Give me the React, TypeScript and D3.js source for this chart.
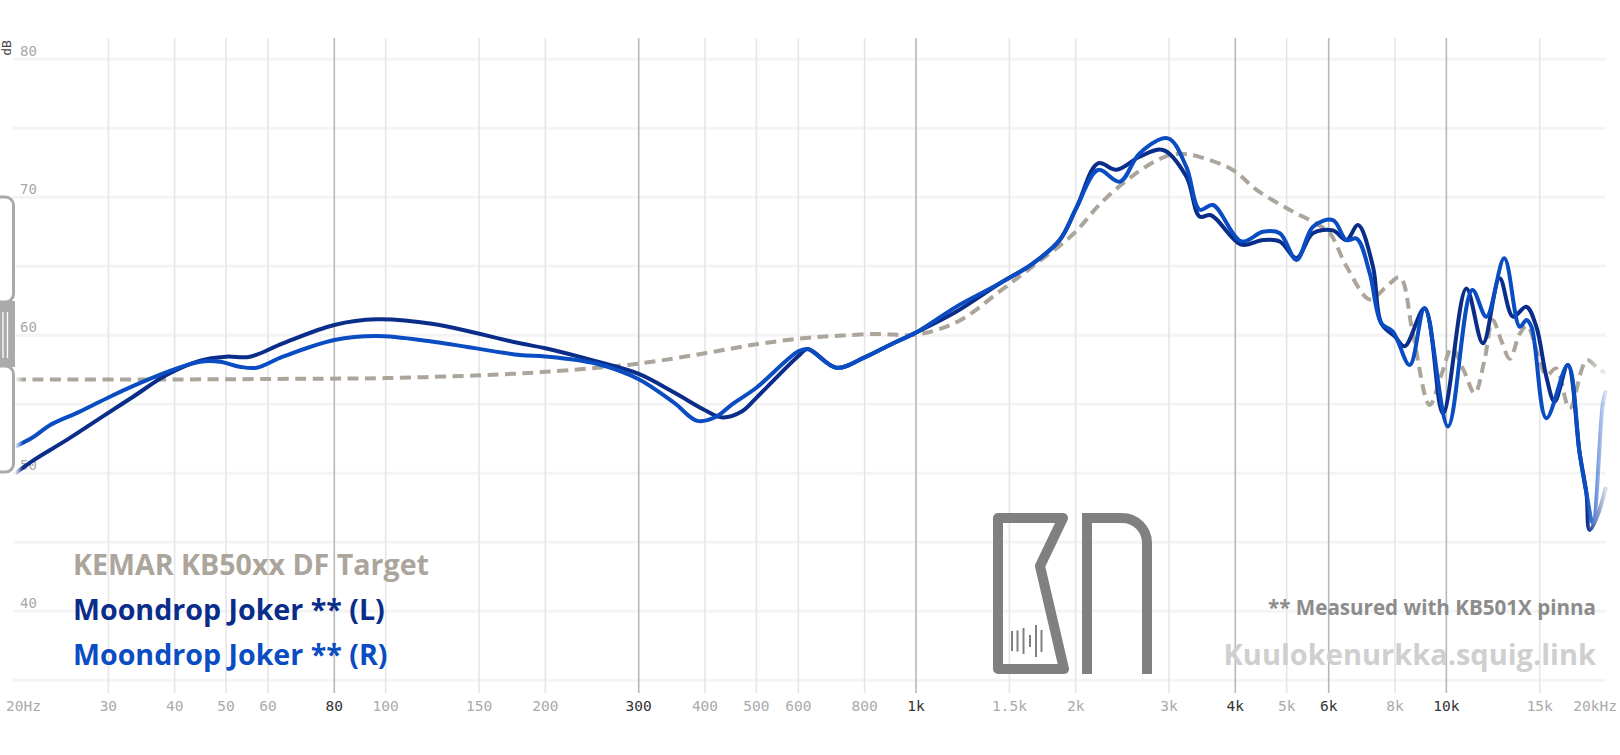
import React, { useEffect, useRef } from 'react';
import * as d3 from 'd3';

type Pt = [number, number];

// frequency (Hz), level (dB)
const targetCurve: Pt[] = [
  [20, 56.8], [40, 56.8], [70, 56.85], [100, 56.9], [150, 57.1], [200, 57.35],
  [300, 57.95], [400, 58.7], [500, 59.35], [600, 59.75], [700, 59.95], [850, 60.1],
  [1000, 60.05], [1200, 61.0], [1440, 63.2], [1660, 65.0], [1975, 67.3], [2235, 69.6],
  [2590, 71.7], [2950, 72.95], [3150, 73.15], [3410, 72.95], [3950, 72.0], [4400, 70.5],
  [5060, 69.1], [5680, 68.1], [6030, 67.4], [6480, 65.0], [7170, 62.6], [7650, 63.4],
  [8170, 64.2], [8640, 60.2], [9300, 54.95], [9800, 57.2], [10240, 59.05], [10800, 57.4],
  [11310, 55.8], [11800, 58.2], [12230, 61.1], [12700, 59.6], [13170, 58.3], [13750, 60.1],
  [14200, 60.7], [14900, 58.5], [15450, 57.1], [16100, 57.6], [17080, 54.7], [18400, 58.2],
  [19450, 57.5], [20000, 57.3],
];

const leftCurve: Pt[] = [
  [20, 50.0], [21.7, 50.96], [25, 52.4], [28.9, 53.98], [33.4, 55.55], [38.6, 57.12],
  [44.7, 58.17], [50, 58.45], [55.5, 58.45], [64, 59.42], [80, 60.75], [96, 61.16],
  [123, 60.82], [179, 59.42], [200, 59.06], [250, 58.1], [300, 57.2], [350, 55.85],
  [400, 54.57], [432, 54.05], [470, 54.5], [500, 55.47], [600, 58.5], [625, 59.0],
  [708, 57.65], [800, 58.4], [900, 59.37], [1000, 60.2], [1190, 61.7], [1440, 63.77],
  [1660, 65.2], [1866, 66.9], [2010, 69.3], [2204, 72.46], [2387, 72.0], [2642, 72.94],
  [2922, 73.43], [3234, 71.5], [3426, 68.6], [3600, 68.7], [4108, 66.57], [4510, 66.9],
  [4852, 66.8], [5217, 65.6], [5604, 67.4], [6112, 67.6], [6478, 66.9], [6815, 67.99],
  [7272, 64.97], [7540, 60.87], [8000, 59.9], [8346, 59.2], [9100, 61.96], [9852, 54.35],
  [10906, 63.4], [11722, 59.42], [12600, 64.13], [13352, 61.35], [14150, 62.07], [14780, 60.62],
  [15436, 57.0], [16000, 55.19], [16947, 57.85], [17838, 51.45], [18374, 48.55], [18622, 45.9],
  [19300, 47.0], [20000, 49.0],
];

const rightCurve: Pt[] = [
  [20, 51.93], [21.7, 52.65], [23.3, 53.5], [26.5, 54.47], [30.2, 55.55], [34.9, 56.64],
  [40.4, 57.6], [44.7, 58.09], [48.7, 58.09], [53.1, 57.72], [57.1, 57.65], [64, 58.45],
  [80, 59.66], [96, 59.95], [123, 59.54], [179, 58.57], [200, 58.47], [250, 57.94],
  [300, 56.82], [350, 55.1], [387, 53.8], [420, 54.1], [450, 55.0], [500, 56.2],
  [600, 58.84], [625, 59.0], [708, 57.65], [800, 58.4], [900, 59.37], [1000, 60.2],
  [1190, 62.06], [1440, 63.77], [1660, 65.2], [1866, 66.9], [2010, 69.3], [2204, 71.98],
  [2422, 71.13], [2642, 73.2], [2986, 74.27], [3234, 72.2], [3426, 69.1], [3631, 69.44],
  [4108, 66.8], [4510, 67.5], [4852, 67.4], [5217, 65.46], [5604, 67.87], [6112, 68.35],
  [6478, 66.9], [6780, 67.0], [7170, 64.5], [7540, 60.87], [7932, 60.26], [8530, 57.85],
  [9100, 61.96], [10070, 53.4], [11190, 63.28], [11898, 61.35], [12860, 65.58], [13750, 60.62],
  [14150, 61.1], [14470, 60.62], [15436, 53.99], [16947, 57.85], [17838, 51.45], [18374, 48.55],
  [18894, 46.4], [19733, 55.07], [20000, 56.0],
];

const freqGrid = [30, 40, 50, 60, 80, 100, 150, 200, 300, 400, 500, 600, 800, 1000, 1500, 2000, 3000, 4000, 5000, 6000, 8000, 10000, 15000];
const strongFreqs = [80, 300, 1000, 4000, 6000, 10000];
const freqLabels: [number, string][] = [
  [20, '20Hz'], [30, '30'], [40, '40'], [50, '50'], [60, '60'], [80, '80'], [100, '100'],
  [150, '150'], [200, '200'], [300, '300'], [400, '400'], [500, '500'], [600, '600'],
  [800, '800'], [1000, '1k'], [1500, '1.5k'], [2000, '2k'], [3000, '3k'], [4000, '4k'],
  [5000, '5k'], [6000, '6k'], [8000, '8k'], [10000, '10k'], [15000, '15k'], [20000, '20kHz'],
];
const dbGrid = [35, 40, 45, 50, 55, 60, 65, 70, 75, 80];
const dbLabels = [40, 50, 60, 70, 80];

const legendNames = ['KEMAR KB50xx DF Target', 'Moondrop Joker ** (L)', 'Moondrop Joker ** (R)'];
const legendColors = ['#aba59c', '#0b2d8a', '#0a4cc2'];
const logoBars: [number, number][] = [[1012, 20], [1017.5, 21], [1023.5, 26], [1030, 12], [1036, 32], [1041.5, 22]];

export default function App() {
  const svgRef = useRef<SVGSVGElement | null>(null);

  useEffect(() => {
    const svg = d3.select(svgRef.current!);
    svg.selectAll('*').remove();
    const width = 1620;
    const top = 38;
    const bottom = 693;

    const x = d3.scaleLog().domain([20, 20000]).range([15, 1606]);
    const y = d3.scaleLinear().domain([35, 80]).range([680.3, 59.3]);

    // horizontal grid
    svg.append('g')
      .selectAll('line')
      .data(dbGrid)
      .join('line')
      .attr('x1', 13)
      .attr('x2', 1606)
      .attr('y1', (d) => y(d))
      .attr('y2', (d) => y(d))
      .attr('stroke', '#f4f4f4')
      .attr('stroke-width', 3);

    // vertical grid
    svg.append('g')
      .selectAll('line')
      .data(freqGrid)
      .join('line')
      .attr('x1', (d) => x(d))
      .attr('x2', (d) => x(d))
      .attr('y1', top)
      .attr('y2', bottom)
      .attr('stroke', (d) => (strongFreqs.includes(d) ? '#b8b8b8' : '#e6e6e6'))
      .attr('stroke-width', 1.6);

    // y labels
    svg.append('g')
      .selectAll('text')
      .data(dbLabels)
      .join('text')
      .attr('x', 20)
      .attr('y', (d) => y(d) - 3)
      .attr('font-family', 'DejaVu Sans Mono, monospace')
      .attr('font-size', 14)
      .attr('fill', '#a8a8a8')
      .text((d) => d);

    svg.append('text')
      .attr('transform', 'translate(11,48) rotate(-90)')
      .attr('text-anchor', 'middle')
      .attr('font-family', 'DejaVu Sans Mono, monospace')
      .attr('font-size', 13)
      .attr('fill', '#444')
      .text('dB');

    // x labels
    svg.append('g')
      .selectAll('text')
      .data(freqLabels)
      .join('text')
      .attr('x', (d) => (d[0] === 20 ? 6 : d[0] === 20000 ? 1617 : x(d[0])))
      .attr('y', 711)
      .attr('text-anchor', (d) => (d[0] === 20 ? 'start' : d[0] === 20000 ? 'end' : 'middle'))
      .attr('font-family', 'DejaVu Sans Mono, monospace')
      .attr('font-size', 14.5)
      .attr('fill', (d) => (strongFreqs.includes(d[0]) ? '#333' : '#aaa'))
      .text((d) => d[1]);

    // left slider handle
    const handle = svg.append('g');
    handle.append('rect').attr('x', -8).attr('y', 197).attr('width', 21.5).attr('height', 105)
      .attr('rx', 8).attr('fill', '#fff').attr('stroke', '#aaa').attr('stroke-width', 3);
    handle.append('rect').attr('x', 0).attr('y', 301).attr('width', 15).attr('height', 66).attr('fill', '#aaa');
    handle.append('rect').attr('x', -8).attr('y', 366).attr('width', 21.5).attr('height', 106)
      .attr('rx', 8).attr('fill', '#fff').attr('stroke', '#aaa').attr('stroke-width', 3);
    [3, 7.5].forEach((lx) => {
      handle.append('line').attr('x1', lx).attr('x2', lx).attr('y1', 312).attr('y2', 358)
        .attr('stroke', '#fff').attr('stroke-width', 1.3);
    });

    // logo
    const logo = svg.append('g').attr('fill', 'none').attr('stroke', '#808080')
      .attr('stroke-width', 10).attr('stroke-linejoin', 'round');
    logo.append('path').attr('d', 'M998,518 L1063,518 L1040,566 L1064,669 L998,669 Z');
    logo.append('path').attr('d', 'M1087,674 L1087,518 L1122,518 A25,25 0 0 1 1147,543 L1147,674')
      .attr('stroke-linejoin', 'miter');
    logo.selectAll('line.bar')
      .data(logoBars)
      .join('line')
      .attr('x1', (d) => d[0])
      .attr('x2', (d) => d[0])
      .attr('y1', (d) => 641 - d[1] / 2)
      .attr('y2', (d) => 641 + d[1] / 2)
      .attr('stroke-width', 2);

    // watermark texts
    svg.append('text')
      .attr('x', 1596).attr('y', 615).attr('text-anchor', 'end')
      .attr('font-family', 'Open Sans, sans-serif').attr('font-weight', 700)
      .attr('font-size', 20.6).attr('fill', '#8c8c8c')
      .text('** Measured with KB501X pinna');
    svg.append('text')
      .attr('x', 1596).attr('y', 665).attr('text-anchor', 'end')
      .attr('font-family', 'Open Sans, sans-serif').attr('font-weight', 700)
      .attr('font-size', 29).attr('fill', '#cfcfcf')
      .text('Kuulokenurkka.squig.link');

    // curves
    const defs = svg.append('defs');
    const grad = defs.append('linearGradient').attr('id', 'fade')
      .attr('gradientUnits', 'userSpaceOnUse').attr('x1', 15).attr('x2', 1606).attr('y1', 0).attr('y2', 0);
    const stops: [number, number][] = [[0, 0], [0.005, 1], [0.988, 1], [1, 0.15]];
    stops.forEach(([o, a]) => grad.append('stop').attr('offset', o).attr('stop-color', '#fff').attr('stop-opacity', a));
    defs.append('mask').attr('id', 'fadeMask').attr('maskUnits', 'userSpaceOnUse')
      .append('rect').attr('x', 0).attr('y', 0).attr('width', width).attr('height', 755).attr('fill', 'url(#fade)');

    const line = d3.line<Pt>()
      .x((d) => x(d[0]))
      .y((d) => y(d[1]))
      .curve(d3.curveCatmullRom.alpha(0.5));

    const curves = svg.append('g').attr('mask', 'url(#fadeMask)').attr('fill', 'none');
    curves.append('path').attr('d', line(targetCurve))
      .attr('stroke', legendColors[0]).attr('stroke-width', 4).attr('stroke-dasharray', '11 6.5');
    curves.append('path').attr('d', line(leftCurve))
      .attr('stroke', legendColors[1]).attr('stroke-width', 4).attr('stroke-linejoin', 'round');
    curves.append('path').attr('d', line(rightCurve))
      .attr('stroke', legendColors[2]).attr('stroke-width', 4).attr('stroke-linejoin', 'round');

    // legend
    svg.append('g')
      .selectAll('text')
      .data(legendNames)
      .join('text')
      .attr('x', 73)
      .attr('y', (_, i) => 575 + i * 45)
      .attr('font-family', 'Open Sans, sans-serif')
      .attr('font-weight', 700)
      .attr('font-size', 28.6)
      .attr('fill', (_, i) => legendColors[i])
      .text((d) => d);
  }, []);

  return (
    <svg
      ref={svgRef}
      width={1620}
      height={755}
      style={{ position: 'fixed', left: 0, top: 0, background: '#fff' }}
    />
  );
}
